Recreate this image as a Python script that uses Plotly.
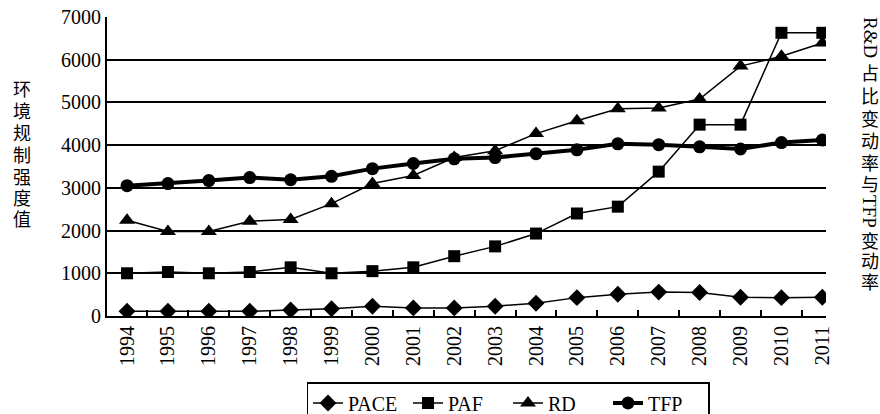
import plotly.graph_objects as go

years = [str(y) for y in range(1994, 2012)]
pace = [110, 110, 110, 110, 140, 170, 230, 190, 190, 230, 300, 430, 510, 560, 550, 440, 430, 440]
paf = [1000, 1030, 1000, 1030, 1140, 1000, 1050, 1140, 1400, 1630, 1930, 2400, 2560, 3380, 4480, 4480, 6630, 6630]
rd = [2240, 1980, 1980, 2220, 2260, 2630, 3100, 3290, 3710, 3870, 4270, 4570, 4850, 4870, 5080, 5850, 6080, 6390]
tfp = [3050, 3100, 3170, 3240, 3190, 3270, 3450, 3570, 3680, 3710, 3800, 3890, 4030, 4010, 3960, 3910, 4060, 4120]

left_title = "环境规制强度值"
right_parts = ["R&D", "占比变动率与", "TFP", "变动率"]

SERIF = "Liberation Serif"
CJK = "Noto Sans CJK SC"

W, H = 880, 414
L, R, T, B = 107, 826, 17, 316


def px(x):
    return (x - L) / (R - L)


def py(y):
    return (B - y) / (B - T)


fig = go.Figure()
fig.add_trace(go.Scatter(x=years, y=pace, name="PACE", mode="lines+markers",
                         line=dict(color="black", width=1.5),
                         marker=dict(symbol="diamond", size=13, color="black")))
fig.add_trace(go.Scatter(x=years, y=paf, name="PAF", mode="lines+markers",
                         line=dict(color="black", width=1.5),
                         marker=dict(symbol="square", size=12, color="black")))
fig.add_trace(go.Scatter(x=years, y=rd, name="RD", mode="lines+markers",
                         line=dict(color="black", width=1.5),
                         marker=dict(symbol="triangle-up", size=14, color="black")))
fig.add_trace(go.Scatter(x=years, y=tfp, name="TFP", mode="lines+markers",
                         line=dict(color="black", width=4),
                         marker=dict(symbol="circle", size=13, color="black")))

annotations = []


def char_ann(ch, x, y, size=18):
    return dict(text=ch, x=px(x), y=py(y), xref="paper", yref="paper", showarrow=False,
                font=dict(family=CJK, size=size, color="black"), xanchor="center", yanchor="middle")


left_y = [88, 110, 132, 154, 176, 197, 218]
for ch, yy in zip(left_title, left_y):
    annotations.append(char_ann(ch, 22, yy))

annotations.append(dict(text=right_parts[0], x=px(870), y=py(37), xref="paper", yref="paper",
                        showarrow=False, textangle=90, font=dict(family=SERIF, size=19, color="black"),
                        xanchor="center", yanchor="middle"))
for ch, yy in zip(right_parts[1], [72, 95, 118, 140, 162, 183]):
    annotations.append(char_ann(ch, 870, yy))
annotations.append(dict(text=right_parts[2], x=px(870), y=py(211), xref="paper", yref="paper",
                        showarrow=False, textangle=90, font=dict(family=SERIF, size=19, color="black"),
                        xanchor="center", yanchor="middle"))
for ch, yy in zip(right_parts[3], [240, 260, 281]):
    annotations.append(char_ann(ch, 870, yy))

fig.update_layout(
    width=W, height=H,
    margin=dict(l=L, r=W - R, t=T, b=H - B, autoexpand=False),
    paper_bgcolor="white", plot_bgcolor="white",
    font=dict(family=SERIF, size=20, color="black"),
    showlegend=True,
    legend=dict(orientation="h", x=px(508), y=py(382), xanchor="center", yanchor="top",
                bordercolor="black", borderwidth=1.5, font=dict(family=SERIF, size=20, color="black"),
                itemwidth=30, tracegroupgap=0, entrywidth=55, entrywidthmode="pixels"),
    annotations=annotations,
)
fig.update_xaxes(type="category", range=[-0.49, 17.09], tickson="boundaries",
                 ticks="inside", ticklen=6, tickwidth=1.5, tickcolor="black",
                 showline=True, linecolor="black", linewidth=2, showgrid=False,
                 tickangle=-90, tickfont=dict(family=SERIF, size=20, color="black"))
fig.update_yaxes(range=[0, 7000], tickvals=[0, 1000, 2000, 3000, 4000, 5000, 6000, 7000],
                 ticks="inside", ticklen=6, tickwidth=1.5, tickcolor="black",
                 showline=True, linecolor="black", linewidth=2,
                 showgrid=True, gridcolor="black", gridwidth=1.5, zeroline=False,
                 tickfont=dict(family=SERIF, size=20, color="black"))

fig.write_html("out.html", config={"displayModeBar": False},
               post_script="document.body.style.margin='0';document.body.style.overflow='hidden';")
